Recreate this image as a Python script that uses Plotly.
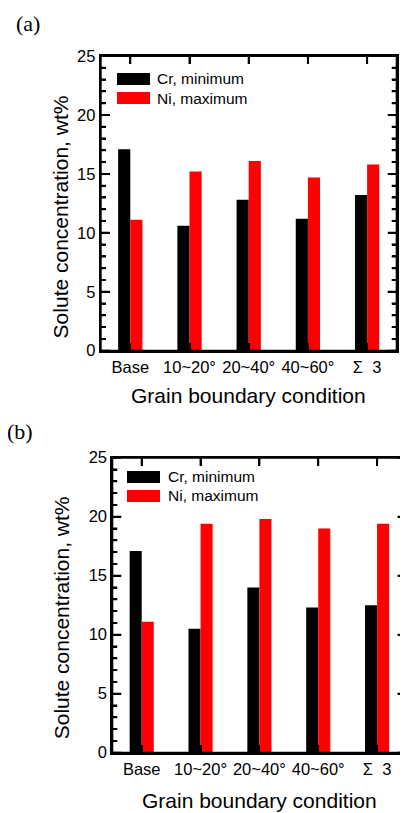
import plotly.graph_objects as go

categories = ["Base", "10~20°", "20~40°", "40~60°", "Σ  3"]
cr_a = [17.1, 10.6, 12.8, 11.2, 13.2]
ni_a = [11.1, 15.2, 16.1, 14.7, 15.8]
cr_b = [17.1, 10.5, 14.0, 12.3, 12.5]
ni_b = [11.1, 19.4, 19.8, 19.0, 19.4]
series_names = ["Cr, minimum", "Ni, maximum"]
colors = ["#000000", "#FF0000"]
y_ticks = [0, 5, 10, 15, 20, 25]
y_minor = [v for v in range(0, 26) if v not in y_ticks]

O = 8  # default page margin of the html body
W, H = 408 - O, 813 - O
FONT = "Liberation Sans, Arial, sans-serif"
xpos = list(range(len(categories)))

fig = go.Figure()
panels = [
    dict(cr=cr_a, ni=ni_a, xa="x", ya="y", x0=100.7, x1=396.7, y0=350.7, y1=56,
         label="(a)", lx=27.5, ly=24, tx=60.7, ty=216.7, bx=395.5,
         leg=[(-0.23, 23.05), (-0.23, 21.43)], legx=0.417),
    dict(cr=cr_b, ni=ni_b, xa="x2", ya="y2", x0=112.3, x1=406.5, y0=752.7, y1=457.7,
         label="(b)", lx=19.5, ly=431.7, tx=61, ty=618.3, bx=800.8,
         leg=[(-0.246, 23.37), (-0.246, 21.77)], legx=0.405),
]

annotations = []
shapes = []
layout = {}
for i, p in enumerate(panels):
    for name, vals, col in zip(series_names, [p["cr"], p["ni"]], colors):
        fig.add_trace(go.Bar(x=xpos, y=vals, name=name, marker=dict(color=col, line=dict(width=0)),
                             xaxis=p["xa"], yaxis=p["ya"], showlegend=False))
    X0, X1 = (p["x0"] - O) / W, (p["x1"] - O) / W
    Y0, Y1 = 1 - (p["y0"] - O) / H, 1 - (p["y1"] - O) / H
    xk = "xaxis" if i == 0 else "xaxis2"
    yk = "yaxis" if i == 0 else "yaxis2"
    layout[xk] = dict(domain=[X0, X1], anchor=p["ya"], range=[-0.5, len(categories) - 0.5],
                      tickmode="array", tickvals=xpos, ticktext=categories, ticks="inside",
                      ticklen=8, tickwidth=2, tickcolor="black", mirror="ticks", automargin=False,
                      showline=True, linecolor="black", linewidth=2, showgrid=False, zeroline=False,
                      tickfont=dict(family=FONT, size=16.5, color="black"))
    layout[yk] = dict(domain=[Y0, Y1], anchor=p["xa"], range=[0, 25], tickmode="array", tickvals=y_ticks,
                      ticks="inside", ticklen=9, tickwidth=2, tickcolor="black", showline=True,
                      linecolor="black", linewidth=2, mirror="ticks", showgrid=False, zeroline=False,
                      automargin=False, tickfont=dict(family=FONT, size=16.5, color="black"),
                      minor=dict(dtick=1, ticks="inside", ticklen=5, tickwidth=2, tickcolor="black"))
    # frame in paper coordinates (not clipped)
    shapes.append(dict(type="rect", xref="paper", yref="paper", x0=X0, x1=X1, y0=Y0, y1=Y1,
                       line=dict(color="black", width=2), fillcolor="rgba(0,0,0,0)", layer="above"))
    # y ticks on both sides
    for vals, ln in [(y_ticks, 9), (y_minor, 5)]:
        for v in vals:
            for a, b in [(X0, X0 + ln / W), (X1, X1 - ln / W)]:
                shapes.append(dict(type="line", xref="paper", yref=p["ya"], x0=a, x1=b, y0=v, y1=v,
                                   line=dict(color="black", width=2), layer="above"))
    # top x ticks
    for v in xpos:
        shapes.append(dict(type="line", xref=p["xa"], yref="paper", x0=v, x1=v, y0=Y1, y1=Y1 - 8 / H,
                           line=dict(color="black", width=2), layer="above"))
    # legend: coloured boxes and labels
    for (lx0, yc), col, name in zip(p["leg"], colors, series_names):
        annotations.append(dict(xref=p["xa"], yref=p["ya"], x=lx0, y=yc, text=" ", width=33, height=12,
                                bgcolor=col, borderpad=0, borderwidth=0, showarrow=False,
                                xanchor="left", yanchor="middle", font=dict(size=1, color=col)))
        annotations.append(dict(xref=p["xa"], yref=p["ya"], x=p["legx"], y=yc, text=name,
                                showarrow=False, xanchor="left", yanchor="middle",
                                font=dict(family=FONT, size=15.5, color="black")))
    annotations.append(dict(xref="paper", yref="paper", x=(p["lx"] - O) / W, y=1 - (p["ly"] - O) / H,
                            text=p["label"], showarrow=False, xanchor="center", yanchor="middle",
                            font=dict(family="Liberation Serif, Times New Roman, serif", size=22, color="black")))
    annotations.append(dict(xref="paper", yref="paper", x=(p["tx"] - O) / W, y=1 - (p["ty"] - O) / H,
                            text="Solute concentration, wt%", textangle=-90, showarrow=False,
                            xanchor="center", yanchor="middle",
                            font=dict(family=FONT, size=21, color="black")))
    annotations.append(dict(xref="paper", yref="paper", x=(X0 + X1) / 2, y=1 - (p["bx"] - O) / H,
                            text="Grain boundary condition", showarrow=False,
                            xanchor="center", yanchor="middle",
                            font=dict(family=FONT, size=21, color="black")))

fig.update_layout(template="none", width=W, height=H, margin=dict(l=0, r=0, t=0, b=0, autoexpand=False),
                  plot_bgcolor="white", barmode="group", bargap=0.59,
                  showlegend=False, annotations=annotations, shapes=shapes, **layout)
fig.write_html("out.html")
